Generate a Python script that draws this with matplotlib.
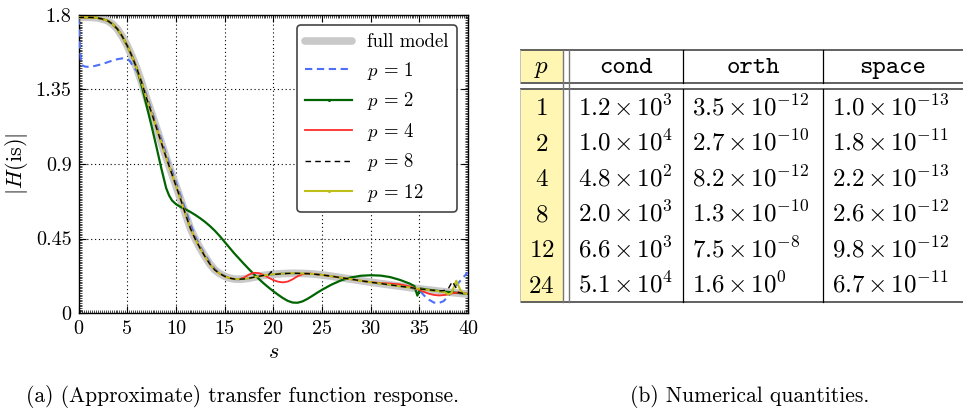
import matplotlib
matplotlib.use("Agg")
import matplotlib.pyplot as plt
from matplotlib.ticker import MultipleLocator
from matplotlib.patches import Rectangle

plt.rcParams.update({
    "font.family": "cmr10",
    "mathtext.fontset": "cm",
    "axes.formatter.use_mathtext": True,
    "axes.unicode_minus": False,
})

# ---------------- transfer function magnitudes ----------------
S_FULL = [0, 0.5, 1, 1.5, 2, 2.5, 3, 3.5, 4, 4.5, 5, 5.5, 6, 6.5, 7, 7.5, 8, 8.5,
          9, 9.5, 10, 10.5, 11, 11.5, 12, 12.5, 13, 13.5, 14, 14.5, 15, 15.5, 16,
          16.5, 17, 17.5, 18, 19, 20, 21, 22, 23, 24, 25, 26, 27, 28, 29, 30, 31,
          32, 33, 34, 35, 36, 37, 38, 39, 40]
H_FULL = [1.785, 1.786, 1.786, 1.785, 1.782, 1.775, 1.765, 1.745, 1.715, 1.67,
          1.615, 1.55, 1.475, 1.39, 1.295, 1.21, 1.12, 1.03, 0.94, 0.855, 0.77,
          0.685, 0.595, 0.51, 0.445, 0.39, 0.34, 0.295, 0.26, 0.238, 0.222, 0.211,
          0.205, 0.204, 0.206, 0.21, 0.216, 0.227, 0.234, 0.238, 0.24, 0.239,
          0.236, 0.23, 0.222, 0.213, 0.204, 0.195, 0.186, 0.178, 0.17, 0.162,
          0.154, 0.146, 0.139, 0.132, 0.126, 0.12, 0.114]

S_P1 = [0, 0.08, 0.15, 0.25, 0.4, 0.7, 1, 1.5, 2, 2.5, 3, 3.5, 4, 4.5, 5, 5.3,
        5.6, 6, 6.5, 7, 7.5, 8, 8.5, 9, 9.5, 10, 10.5, 11, 11.5, 12, 12.5, 13,
        13.5, 14, 14.5, 15, 15.5, 16, 16.5, 17, 17.5, 18, 19, 20, 21, 22, 23, 24,
        25, 26, 27, 28, 29, 30, 31, 32, 33, 34, 35, 35.5, 36, 36.5, 37, 37.5, 38,
        38.5, 39, 39.5, 40]
H_P1 = [1.785, 1.72, 1.6, 1.52, 1.495, 1.488, 1.487, 1.49, 1.497, 1.505, 1.515,
        1.525, 1.533, 1.538, 1.535, 1.52, 1.49, 1.46, 1.395, 1.31, 1.225, 1.135,
        1.05, 0.96, 0.875, 0.79, 0.705, 0.62, 0.535, 0.46, 0.4, 0.35, 0.305,
        0.265, 0.24, 0.224, 0.211, 0.205, 0.204, 0.206, 0.21, 0.216, 0.227,
        0.234, 0.238, 0.24, 0.239, 0.236, 0.23, 0.222, 0.213, 0.204, 0.195,
        0.186, 0.178, 0.17, 0.162, 0.155, 0.138, 0.105, 0.08, 0.063, 0.06,
        0.072, 0.103, 0.143, 0.18, 0.215, 0.245]

S_P2 = [0, 0.5, 1, 1.5, 2, 2.5, 3, 3.5, 4, 4.5, 5, 5.5, 6, 6.5, 7, 7.5, 8, 8.5,
        9, 9.3, 9.6, 10, 10.35, 10.7, 11, 11.5, 12, 12.5, 13, 13.5, 14, 14.5, 15,
        15.5, 16, 16.5, 17, 17.5, 18, 18.5, 19, 19.5, 20, 20.5, 21, 21.5, 22,
        22.5, 23, 23.5, 24, 24.5, 25, 26, 27, 28, 29, 30, 31, 32, 33, 34, 34.5,
        34.8, 35.1, 36, 37, 38, 39, 40]
H_P2 = [1.785, 1.786, 1.786, 1.785, 1.782, 1.775, 1.765, 1.745, 1.715, 1.67,
        1.615, 1.55, 1.475, 1.37, 1.25, 1.13, 1.005, 0.875, 0.755, 0.71, 0.68,
        0.658, 0.645, 0.634, 0.626, 0.61, 0.592, 0.572, 0.55, 0.525, 0.497,
        0.465, 0.43, 0.395, 0.36, 0.328, 0.296, 0.265, 0.235, 0.207, 0.18, 0.155,
        0.132, 0.11, 0.09, 0.073, 0.063, 0.062, 0.07, 0.085, 0.103, 0.122, 0.14,
        0.172, 0.198, 0.215, 0.225, 0.228, 0.226, 0.217, 0.2, 0.178, 0.162,
        0.105, 0.148, 0.14, 0.133, 0.127, 0.121, 0.115]

S_P4 = [0, 0.5, 1, 1.5, 2, 2.5, 3, 3.5, 4, 4.5, 5, 5.5, 6, 6.5, 7, 7.5, 8, 8.5,
        9, 9.5, 10, 10.5, 11, 11.5, 12, 12.5, 13, 13.5, 14, 14.5, 15, 15.5, 16,
        16.5, 17, 17.5, 18, 18.5, 19, 19.5, 20, 20.5, 21, 21.5, 22, 22.5, 23,
        23.5, 24, 25, 26, 27, 28, 29, 30, 31, 32, 33, 34, 35, 35.5, 36, 36.5, 37,
        37.5, 38, 38.5, 39, 39.5, 40]
H_P4 = [1.785, 1.786, 1.786, 1.785, 1.782, 1.775, 1.765, 1.745, 1.715, 1.67,
        1.615, 1.55, 1.475, 1.39, 1.295, 1.21, 1.12, 1.03, 0.94, 0.855, 0.77,
        0.685, 0.595, 0.51, 0.445, 0.39, 0.34, 0.295, 0.26, 0.238, 0.222, 0.211,
        0.205, 0.205, 0.214, 0.232, 0.243, 0.241, 0.23, 0.214, 0.199, 0.189,
        0.185, 0.19, 0.204, 0.222, 0.234, 0.239, 0.237, 0.23, 0.222, 0.213,
        0.204, 0.195, 0.186, 0.181, 0.178, 0.173, 0.161, 0.14, 0.127, 0.116,
        0.109, 0.106, 0.108, 0.113, 0.12, 0.124, 0.121, 0.116]

S_P8 = [0, 0.5, 1, 1.5, 2, 2.5, 3, 3.5, 4, 4.5, 5, 5.5, 6, 6.5, 7, 7.5, 8, 8.5,
        9, 9.5, 10, 10.5, 11, 11.5, 12, 12.5, 13, 13.5, 14, 14.5, 15, 15.5, 16,
        16.5, 17, 17.5, 18, 19, 19.5, 19.8, 20.1, 21, 22, 23, 24, 25, 26, 27, 28,
        29, 30, 31, 32, 33, 34, 35, 36, 37, 37.5, 38, 38.4, 38.7, 39, 39.5, 40]
H_P8 = [1.785, 1.786, 1.786, 1.785, 1.782, 1.775, 1.765, 1.745, 1.715, 1.67,
        1.615, 1.55, 1.475, 1.39, 1.295, 1.21, 1.12, 1.03, 0.94, 0.855, 0.77,
        0.685, 0.595, 0.51, 0.445, 0.39, 0.34, 0.295, 0.26, 0.238, 0.222, 0.211,
        0.205, 0.204, 0.206, 0.21, 0.216, 0.227, 0.229, 0.25, 0.233, 0.238, 0.24,
        0.239, 0.236, 0.23, 0.222, 0.213, 0.204, 0.195, 0.186, 0.178, 0.17,
        0.162, 0.154, 0.146, 0.14, 0.134, 0.135, 0.15, 0.19, 0.16, 0.125, 0.118,
        0.114]

S_P12 = [0, 0.5, 1, 1.5, 2, 2.5, 3, 3.5, 4, 4.5, 5, 5.5, 6, 6.5, 7, 7.5, 8, 8.5,
         9, 9.5, 10, 10.5, 11, 11.5, 12, 12.5, 13, 13.5, 14, 14.5, 15, 15.5, 16,
         16.5, 17, 17.5, 18, 19, 20, 21, 22, 23, 24, 25, 26, 27, 28, 29, 30, 31,
         32, 33, 34, 35, 36, 37, 37.5, 38, 38.3, 38.8, 39.2, 39.5, 40]
H_P12 = [1.785, 1.786, 1.786, 1.785, 1.782, 1.775, 1.765, 1.745, 1.715, 1.67,
         1.615, 1.55, 1.475, 1.39, 1.295, 1.21, 1.12, 1.03, 0.94, 0.855, 0.77,
         0.685, 0.595, 0.51, 0.445, 0.39, 0.34, 0.295, 0.26, 0.238, 0.222, 0.211,
         0.205, 0.204, 0.206, 0.21, 0.216, 0.227, 0.234, 0.238, 0.24, 0.239,
         0.236, 0.23, 0.222, 0.213, 0.204, 0.195, 0.186, 0.178, 0.17, 0.162,
         0.154, 0.146, 0.139, 0.132, 0.128, 0.112, 0.12, 0.195, 0.14, 0.12, 0.114]

X_TICKS = [0, 5, 10, 15, 20, 25, 30, 35, 40]
Y_TICKS = [0, 0.45, 0.9, 1.35, 1.8]
Y_TICK_LABELS = ["0", "0.45", "0.9", "1.35", "1.8"]

# ---------------- numerical quantities ----------------
P_VALUES = ["1", "2", "4", "8", "12", "24"]
COND = [r"1.2\,{\times}\,10^{3}", r"1.0\,{\times}\,10^{4}",
        r"4.8\,{\times}\,10^{2}", r"2.0\,{\times}\,10^{3}",
        r"6.6\,{\times}\,10^{3}", r"5.1\,{\times}\,10^{4}"]
ORTH = [r"3.5\,{\times}\,10^{-12}", r"2.7\,{\times}\,10^{-10}",
        r"8.2\,{\times}\,10^{-12}", r"1.3\,{\times}\,10^{-10}",
        r"7.5\,{\times}\,10^{-8}", r"1.6\,{\times}\,10^{0}"]
SPACE = [r"1.0\,{\times}\,10^{-13}", r"1.8\,{\times}\,10^{-11}",
         r"2.2\,{\times}\,10^{-13}", r"2.6\,{\times}\,10^{-12}",
         r"9.8\,{\times}\,10^{-12}", r"6.7\,{\times}\,10^{-11}"]
HEADERS = ["cond", "orth", "space"]

W, H = 963, 411
fig = plt.figure(figsize=(W / 100, H / 100), dpi=100)
fig.patch.set_facecolor("white")

# ---------------- left panel: frequency response ----------------
ax = fig.add_axes([78.5 / W, 1 - 313 / H, (468 - 78.5) / W, (313 - 15) / H])

ax.plot(S_FULL, H_FULL, color="#c9c9c9", lw=5.5, solid_capstyle="round",
        label="full model", zorder=2)
ax.plot(S_P1, H_P1, color="#4f6ffa", lw=1.5, ls=(0, (3.5, 2.2)),
        label=r"$p\,=\,1$", zorder=3)
ax.plot(S_P2, H_P2, color="#006400", lw=1.6, marker=".", ms=2.5,
        markevery=1000, label=r"$p\,=\,2$", zorder=3)
ax.plot(S_P4, H_P4, color="#ff2a2a", lw=1.3, label=r"$p\,=\,4$", zorder=3)
ax.plot(S_P8, H_P8, color="black", lw=1.0, ls=(0, (4, 3)),
        label=r"$p\,=\,8$", zorder=4)
ax.plot(S_P12, H_P12, color="#bfbf1a", lw=1.5, marker=".", ms=2.5,
        markevery=1000, label=r"$p\,=\,12$", zorder=3)

ax.set_xlim(0, 40)
ax.set_ylim(0, 1.8)
ax.set_xticks(X_TICKS)
ax.set_xticklabels([str(t) for t in X_TICKS])
ax.set_yticks(Y_TICKS)
ax.set_yticklabels(Y_TICK_LABELS)
ax.xaxis.set_minor_locator(MultipleLocator(0.2))
ax.yaxis.set_minor_locator(MultipleLocator(0.01))
ax.tick_params(which="both", direction="in", top=True, right=True,
               labelsize=14.5, colors="black")
ax.tick_params(which="major", length=5, width=0.8, pad=5)
ax.tick_params(which="minor", length=2, width=0.5)
ax.grid(True, which="major", color="black", ls=(0, (1, 2.5)), lw=0.8)
for sp in ax.spines.values():
    sp.set_linewidth(1.0)
ax.set_xlabel(r"$s$", fontsize=16, labelpad=3)
ax.set_ylabel(r"$|H(\mathrm{is})|$", fontsize=16, labelpad=4)

leg = ax.legend(loc="upper right", bbox_to_anchor=(0.972, 0.966),
                borderaxespad=0, fontsize=13.5, fancybox=True, framealpha=1,
                edgecolor="#444444", handlelength=2.5, handletextpad=0.8,
                labelspacing=0.45, borderpad=0.45, numpoints=1)
leg.get_frame().set_linewidth(1.2)

# ---------------- right panel: table ----------------
tab = fig.add_axes([0, 0, 1, 1])
tab.set_xlim(0, W)
tab.set_ylim(H, 0)
tab.axis("off")

x_left, x_p, x_dbl, x_c1, x_c2, x_right = 520, 563, 569, 683, 823, 963
y_top, y_head, y_data, y_bot = 50, 83, 89, 302
row_h = (y_bot - y_data) / len(P_VALUES)
yellow = "#fff6b4"

tab.add_patch(Rectangle((x_left, y_top), x_p - x_left, y_head - y_top,
                        facecolor=yellow, edgecolor="none"))
tab.add_patch(Rectangle((x_left, y_data), x_p - x_left, y_bot - y_data,
                        facecolor=yellow, edgecolor="none"))

for y in (y_top, y_head, y_data, y_bot):
    tab.plot([x_left, x_right], [y, y], color="#555555", lw=1.3,
             solid_capstyle="butt")
for x in (x_p, x_dbl):
    tab.plot([x, x], [y_top, y_bot], color="#777777", lw=1.0)
for x in (x_c1, x_c2):
    tab.plot([x, x], [y_top, y_head], color="black", lw=0.9)
    tab.plot([x, x], [y_data, y_bot], color="black", lw=0.9)
tab.plot([x_left, x_left], [y_top, y_head], color="#bbbbbb", lw=0.6)
tab.plot([x_left, x_left], [y_data, y_bot], color="#bbbbbb", lw=0.6)

tsize = 18
head_base = 73
tab.text((x_left + x_p) / 2, head_base, r"$p$", fontsize=tsize,
         ha="center", va="baseline")
for txt, (a, b) in zip(HEADERS, [(x_dbl, x_c1), (x_c1, x_c2), (x_c2, x_right)]):
    tab.text((a + b) / 2, head_base, txt, fontsize=18.4, family="cmtt10",
             ha="center", va="baseline")

for i, p in enumerate(P_VALUES):
    base = y_data + row_h * i + 26
    tab.text((x_left + x_p) / 2, base, f"${p}$", fontsize=tsize,
             ha="center", va="baseline")
    tab.text(x_dbl + 9, base, f"${COND[i]}$", fontsize=tsize, ha="left",
             va="baseline")
    tab.text(x_c1 + 9, base, f"${ORTH[i]}$", fontsize=tsize, ha="left",
             va="baseline")
    tab.text(x_c2 + 9, base, f"${SPACE[i]}$", fontsize=tsize, ha="left",
             va="baseline")

# ---------------- captions ----------------
tab.text(243, 396, "(a) (Approximate) transfer function response.",
         fontsize=15.5, ha="center", va="center")
tab.text(750, 396, "(b) Numerical quantities.", fontsize=15.5,
         ha="center", va="center")

fig.savefig("out.png", dpi=100, facecolor="white")
